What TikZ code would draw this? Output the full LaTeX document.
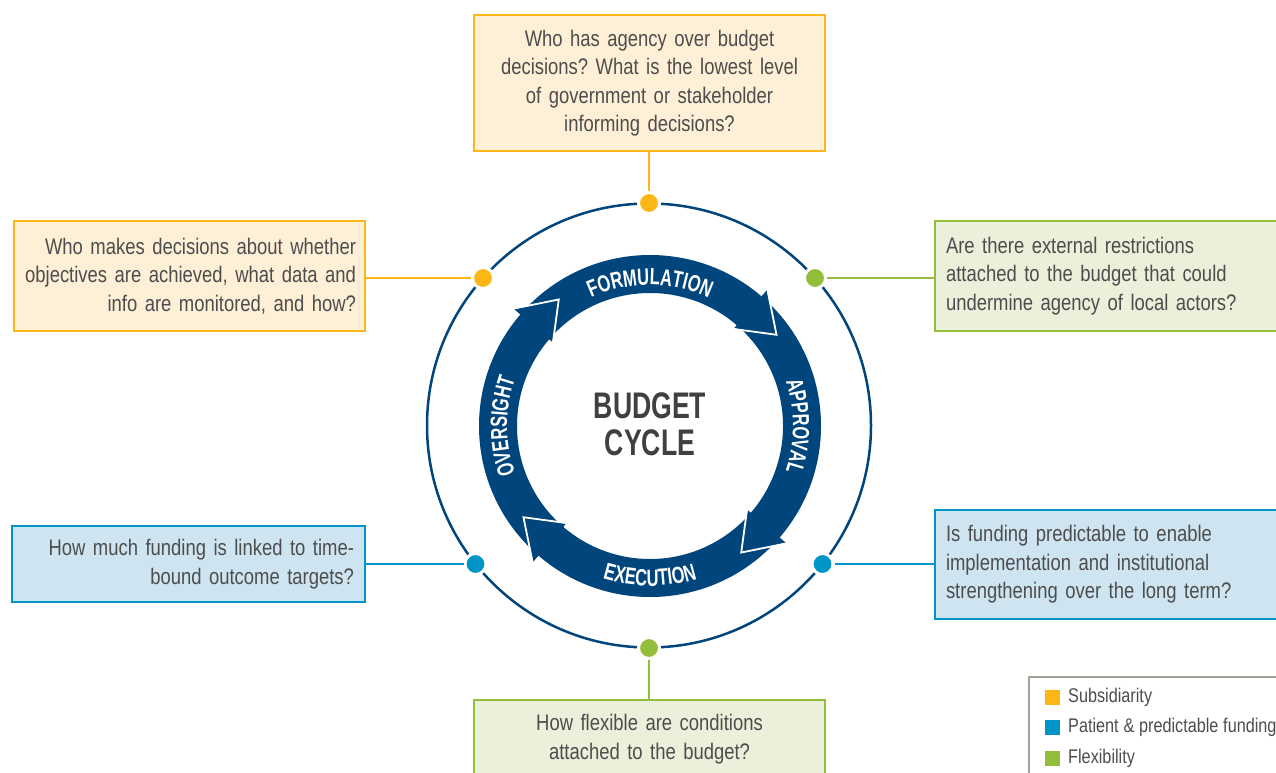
\documentclass[tikz,border=0pt]{standalone}
\usepackage{fontspec}
\setmainfont{Liberation Sans}[FakeStretch=0.82]
\newfontfamily\condfont{Liberation Sans}[FakeStretch=0.72]
\newfontfamily\ringfont{Liberation Sans}[FakeStretch=0.70]
\usetikzlibrary{decorations.text}
\frenchspacing
\newcommand\qfont{\fontsize{22.5}{28.5}\selectfont\spaceskip=0.24em minus 0.06em\relax}
\newcommand\legfont{\fontsize{19.8}{21}\selectfont\spaceskip=0.24em\relax}

\definecolor{ringblue}{RGB}{0,69,124}
\definecolor{subsid}{RGB}{252,183,22}
\definecolor{subsidfill}{RGB}{254,239,215}
\definecolor{funding}{RGB}{0,149,201}
\definecolor{fundingfill}{RGB}{206,229,241}
\definecolor{flex}{RGB}{146,190,58}
\definecolor{flexfill}{RGB}{234,240,218}
\definecolor{textgray}{RGB}{77,77,77}
\definecolor{titlegray}{RGB}{64,64,64}
\definecolor{legendgray}{RGB}{160,160,150}

\tikzstyle{question}=[draw, line width=2.5pt, text=textgray, font=\qfont, inner xsep=11pt, inner ysep=0pt]
\tikzstyle{subsidbox}=[question, draw=subsid, fill=subsidfill]
\tikzstyle{fundingbox}=[question, draw=funding, fill=fundingfill]
\tikzstyle{flexbox}=[question, draw=flex, fill=flexfill]
\tikzstyle{marker}=[circle, draw=white, line width=3pt, minimum size=21pt, inner sep=0pt]
\tikzstyle{link}=[line width=2.5pt]
\tikzstyle{legsquare}=[rectangle, minimum size=15pt, inner sep=0pt]
\tikzstyle{legtext}=[anchor=west, text=textgray, font=\legfont, inner sep=0pt]
\tikzstyle{ringlabel}=[decorate, decoration={text along path, text align=center, text color=white}]

\begin{document}
\begin{tikzpicture}[x=1pt, y=1pt]
\useasboundingbox (0,0) rectangle (1276,-773);

% question boxes
\node[subsidbox, text width=329pt, minimum height=136pt, align=center] at (649.5,-83) (q1) {Who has agency over budget\\decisions? What is the lowest level\\of government or stakeholder\\informing decisions?};
\node[subsidbox, text width=333pt, inner xsep=9pt, minimum height=110pt, align=right] at (189.5,-276) (q2) {Who makes decisions about whether\\objectives are achieved, what data and\\info are monitored, and how?};
\node[flexbox, text width=348pt, minimum height=110pt, align=left] at (1120,-276) (q3) {Are there external restrictions\\attached to the budget that could\\undermine agency of local actors?};
\node[fundingbox, text width=331pt, minimum height=76pt, align=right] at (188.5,-564) (q4) {How much funding is linked to time-\\bound outcome targets?};
\node[fundingbox, text width=348pt, minimum height=109pt, align=left] at (1120,-564.5) (q5) {Is funding predictable to enable\\implementation and institutional\\strengthening over the long term?};
\node[flexbox, text width=329pt, minimum height=78pt, align=center] at (649.5,-739) (q6) {How flexible are conditions\\attached to the budget?};

% outer circle
\draw[ringblue, line width=2.5pt] (649,-425.5) circle (222pt);

% arrow ring
\begin{scope}[shift={(650,-426)}]
\fill[ringblue, even odd rule] (0,0) circle (171pt) (0,0) circle (133pt);
\foreach \t in {35.8,-54.2,-144.2,125.8}{
  \fill[ringblue] (\t+13.5:179pt) -- (\t:156pt) -- (\t+13.5:129pt) -- cycle;
  \draw[white, line width=1.8pt] (\t+13.5:180pt) -- (\t:156pt) -- (\t+13.5:128pt);
}
\path[ringlabel, decoration={text={|\ringfont\bfseries\fontsize{23.5}{23.5}\selectfont|FORMULATION}}] (140:141pt) arc[start angle=140, end angle=40, radius=141pt];
\path[ringlabel, decoration={text={|\ringfont\bfseries\fontsize{23.5}{23.5}\selectfont|APPROVAL}}] (50:143pt) arc[start angle=50, end angle=-50, radius=143pt];
\path[ringlabel, decoration={text={|\ringfont\bfseries\fontsize{23.5}{23.5}\selectfont|EXECUTION}}] (-140:160pt) arc[start angle=-140, end angle=-40, radius=160pt];
\path[ringlabel, decoration={text={|\ringfont\bfseries\fontsize{23.5}{23.5}\selectfont|OVERSIGHT}}] (230:143pt) arc[start angle=230, end angle=130, radius=143pt];
\end{scope}

\node[text=titlegray, align=center, font=\condfont\bfseries\fontsize{37}{37}\selectfont] at (650,-424) (title) {BUDGET\\CYCLE};

% markers on the circle
\node[marker, fill=subsid] at (649,-203) (d1) {};
\node[marker, fill=subsid] at (483,-278) (d2) {};
\node[marker, fill=flex] at (815,-278) (d3) {};
\node[marker, fill=funding] at (475.5,-564) (d4) {};
\node[marker, fill=funding] at (822.5,-564) (d5) {};
\node[marker, fill=flex] at (649,-648) (d6) {};

\draw[link, subsid] (d1) -- (d1 |- q1.south);
\draw[link, subsid] (d2) -- (d2 -| q2.east);
\draw[link, flex] (d3) -- (d3 -| q3.west);
\draw[link, funding] (d4) -- (d4 -| q4.east);
\draw[link, funding] (d5) -- (d5 -| q5.west);
\draw[link, flex] (d6) -- (d6 |- q6.north);

% legend
\draw[legendgray, line width=2pt] (1029,-800) |- (1300,-677) coordinate (legcorner);
\node[legsquare, fill=subsid] at (1052.5,-697) (l1) {};
\node[legsquare, fill=funding] at (1052.5,-727) (l2) {};
\node[legsquare, fill=flex] at (1052.5,-758) (l3) {};
\node[legtext] at (1068,-697) (t1) {Subsidiarity};
\node[legtext] at (1068,-727) (t2) {Patient \& predictable funding};
\node[legtext] at (1068,-758) (t3) {Flexibility};
\end{tikzpicture}
\end{document}
